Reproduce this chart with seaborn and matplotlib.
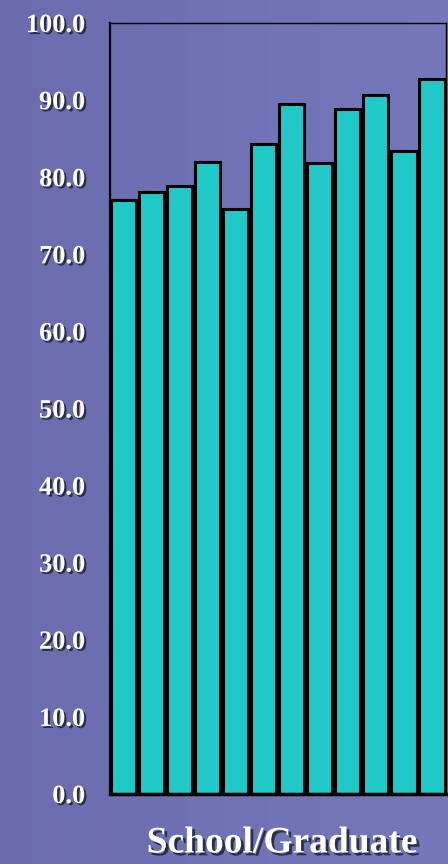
import numpy as np
import pandas as pd
import matplotlib
matplotlib.use("Agg")
import matplotlib.pyplot as plt
import matplotlib.patheffects as pe
import seaborn as sns

# values
schools = ["S1", "S2", "S3", "S4", "S5", "S6", "S7", "S8", "S9", "S10", "S11", "S12"]
rates = [77.0, 78.1, 78.9, 82.0, 75.9, 84.3, 89.5, 81.9, 88.9, 90.7, 83.4, 92.7]
yticks = [0, 10, 20, 30, 40, 50, 60, 70, 80, 90, 100]

df = pd.DataFrame({"school": schools, "rate": rates})

sns.set_style("white")
plt.rcParams["font.family"] = ["Liberation Serif", "DejaVu Serif"]

bg = "#6e72b4"
fig = plt.figure(figsize=(4.48, 8.64), dpi=100)
fig.patch.set_facecolor(bg)

# soft background gradient
bgax = fig.add_axes([0, 0, 1, 1], zorder=-1)
grad = np.linspace(0, 1, 256).reshape(1, -1)
bgax.imshow(grad, aspect="auto", extent=[0, 1, 0, 1],
            cmap=matplotlib.colors.LinearSegmentedColormap.from_list("bg", ["#6a6cae", "#7478ba"]))
bgax.axis("off")

ax = fig.add_axes([110 / 448, 1 - 794 / 864, 336 / 448, 771 / 864])
ax.set_facecolor("none")

sns.barplot(data=df, x="school", y="rate", color="#20c8c8", saturation=1,
            edgecolor="black", linewidth=2.2, width=0.9, ax=ax)

ax.set_xlim(-0.47, 11.5)
ax.set_ylim(0, 100)
ax.set_yticks(yticks)
ax.set_yticklabels([f"{v:.1f}" for v in yticks])
ax.set_xticks([])
ax.set_xlabel("")
ax.set_ylabel("")

shadow = [pe.withSimplePatchShadow(offset=(1.5, -1.5), shadow_rgbFace="black", alpha=0.6)]
for lab in ax.get_yticklabels():
    lab.set_color("white")
    lab.set_fontsize(19)
    lab.set_fontweight("bold")
    lab.set_path_effects(shadow)
ax.tick_params(axis="y", length=0, pad=18)

for side in ["top", "left", "right"]:
    ax.spines[side].set_color("black")
    ax.spines[side].set_linewidth(1.0)
ax.spines["left"].set_linewidth(1.6)
ax.spines["bottom"].set_color("black")
ax.spines["bottom"].set_linewidth(2.5)

fig.text(282 / 448, 1 - 843 / 864, "School/Graduate", color="white", fontsize=27,
         fontweight="bold", ha="center", va="center",
         path_effects=[pe.withSimplePatchShadow(offset=(2, -2), shadow_rgbFace="black", alpha=0.6)])

fig.savefig("out.png", dpi=100, facecolor=bg)
